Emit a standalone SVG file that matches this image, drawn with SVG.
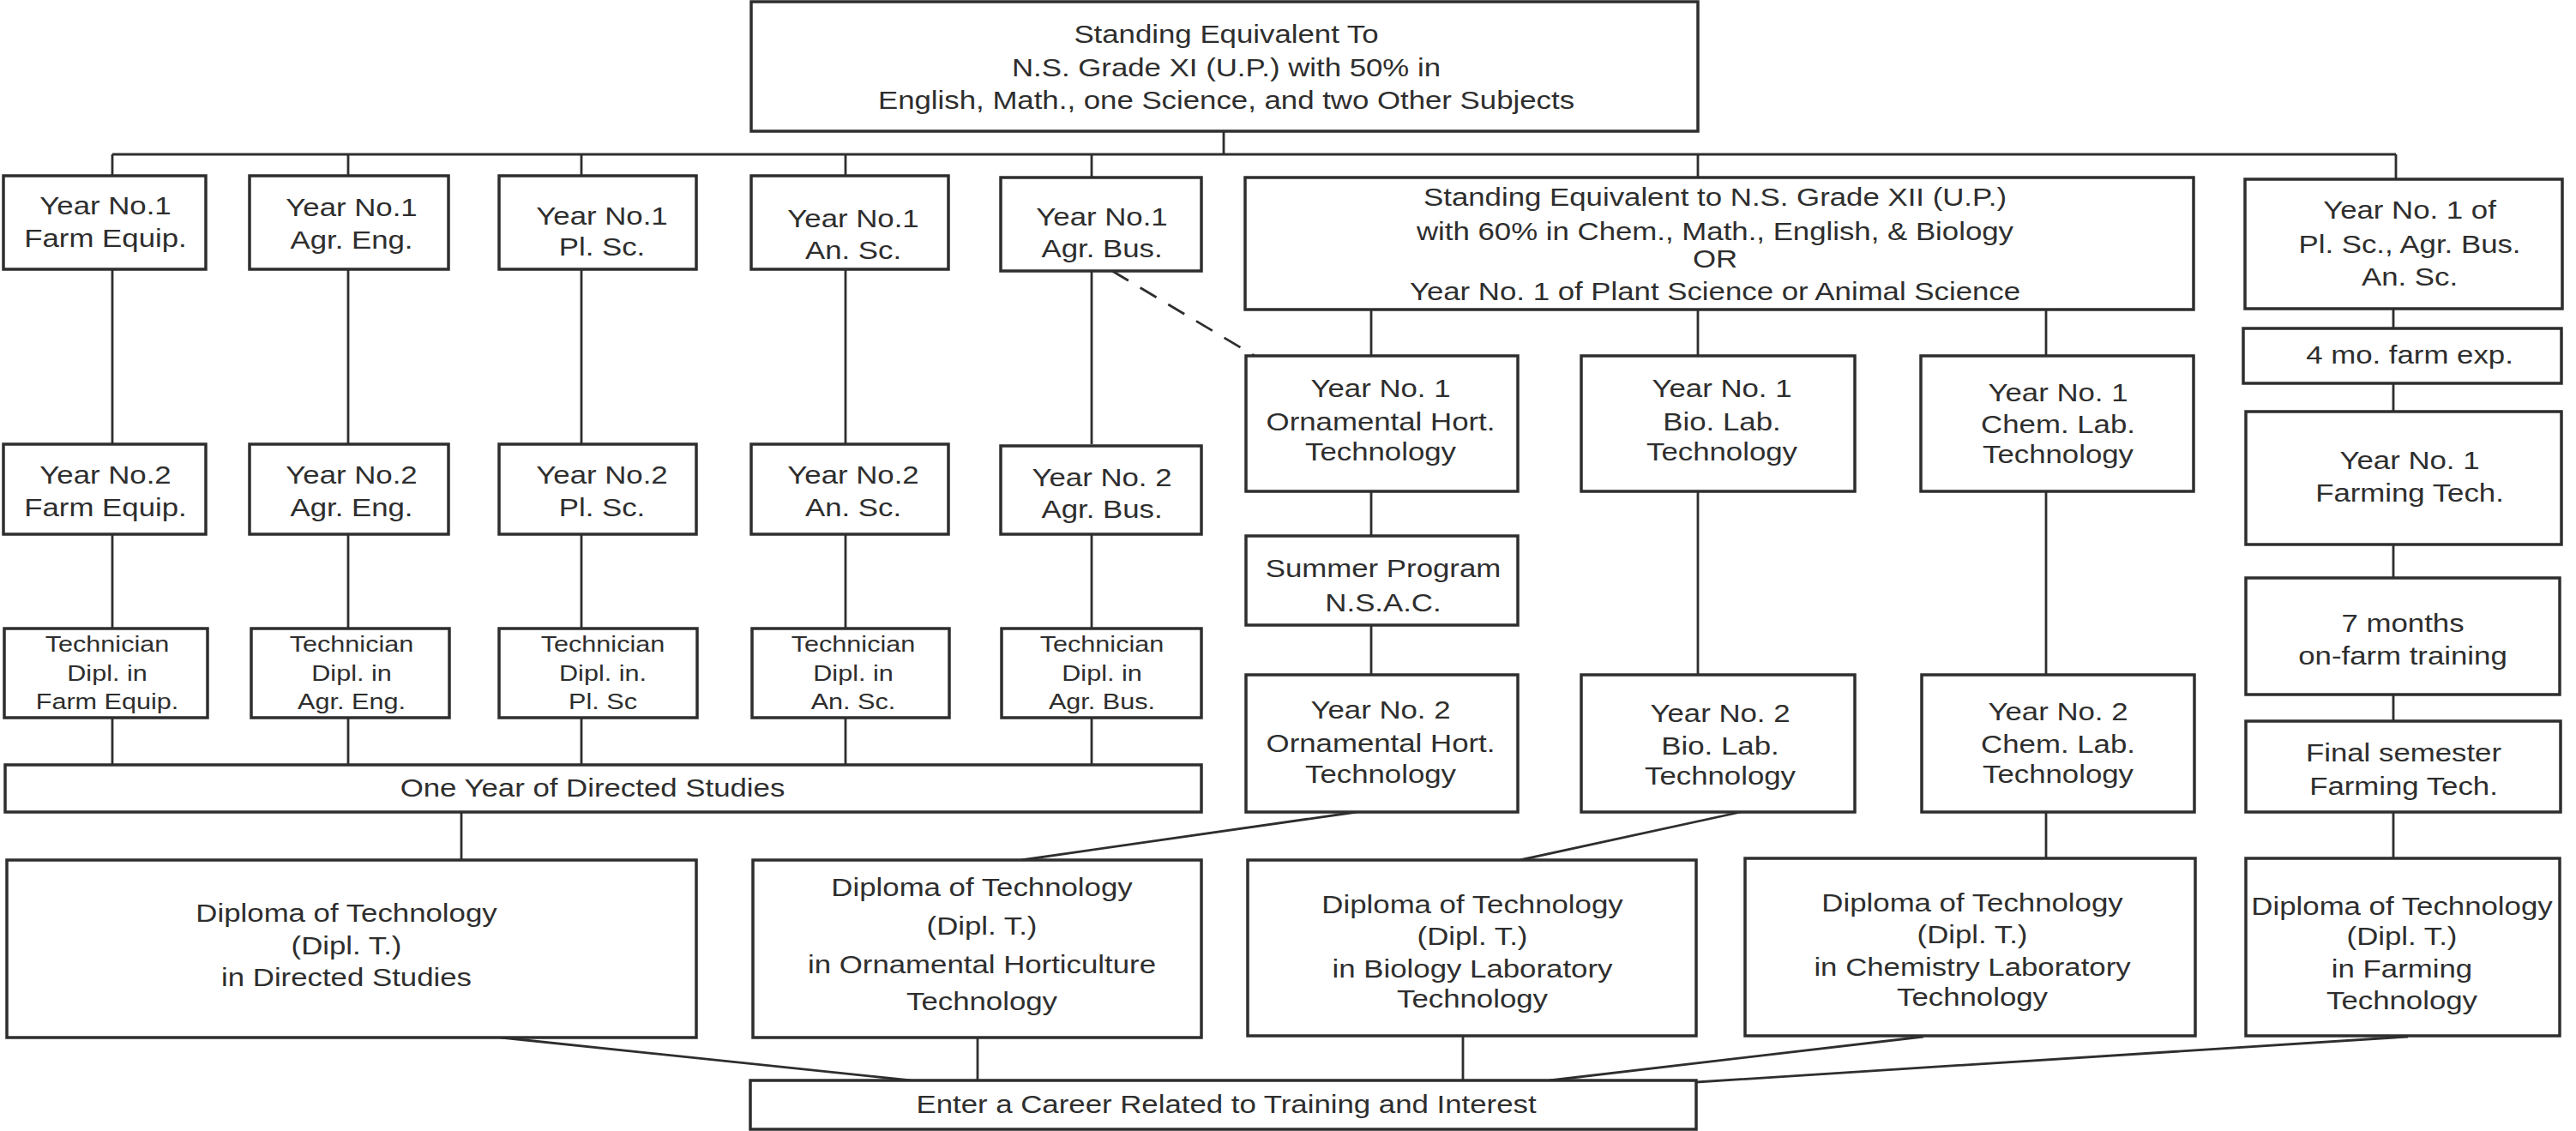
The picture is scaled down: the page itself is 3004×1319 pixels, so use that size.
<svg xmlns="http://www.w3.org/2000/svg" width="3004" height="1319" viewBox="0 0 3004 1319">
<style>
.box { fill: #ffffff; stroke: #2e2e2e; stroke-width: 3.5; }
.ln { fill: none; stroke: #2e2e2e; stroke-width: 2.8; }
.dash { stroke-dasharray: 22 16; }
text { font-family: "Liberation Sans", Arial, sans-serif; font-size: 29px; fill: #2e2e2e; text-anchor: middle; }
.sm text { font-size: 25.5px; }
</style>
<rect width="3004" height="1319" fill="#ffffff"/>

<g id="connectors">
<path class="ln" d="M1427 153 V180 M131 180 H2794 M131 180 V205 M406 180 V205 M678 180 V205 M986 180 V205 M1273 180 V207 M1980 180 V207 M2794 180 V209"/>
<path class="ln" d="M131 314 V518 M131 623 V733 M131 837 V892 M406 314 V518 M406 623 V733 M406 837 V892 M678 314 V518 M678 623 V733 M678 837 V892 M986 314 V518 M986 623 V733 M986 837 V892 M1273 316 V518 M1273 623 V733 M1273 837 V892"/>
<path class="ln" d="M538 947 V1003"/>
<path class="ln" d="M1599 361 V415 M1980 361 V415 M2386 361 V415 M1599 573 V625 M1599 729 V787 M1980 573 V787 M2386 573 V787"/>
<path class="ln" d="M1582 947 L1191 1003 M2030 947 L1772 1003 M2386 947 V1003"/>
<path class="ln" d="M2791 360 V383 M2791 447 V480 M2791 635 V674 M2791 810 V841 M2791 947 V1003"/>
<path class="ln" d="M584 1210 L1062 1260 M1140 1209 V1260 M1706 1209 V1260 M2243 1209 L1807 1260 M2808 1209 L1978 1262"/>
<path class="ln dash" d="M1297 316 L1463 415"/>
</g>

<g id="top">
<rect class="box" x="876" y="2" width="1104" height="151"/>
<g transform="translate(1430 0) scale(1.2 1)">
<text y="50">Standing Equivalent To</text>
<text y="89">N.S. Grade XI (U.P.) with 50% in</text>
<text y="127">English, Math., one Science, and two Other Subjects</text>
</g>
</g>

<g id="y1-farm-equip">
<rect class="box" x="4" y="205" width="236" height="109"/>
<g transform="translate(123 0) scale(1.2 1)"><text y="250">Year No.1</text><text y="288">Farm Equip.</text></g>
</g>
<g id="y1-agr-eng">
<rect class="box" x="291" y="205" width="232" height="109"/>
<g transform="translate(410 0) scale(1.2 1)"><text y="252">Year No.1</text><text y="290">Agr. Eng.</text></g>
</g>
<g id="y1-pl-sc">
<rect class="box" x="582" y="205" width="230" height="109"/>
<g transform="translate(702 0) scale(1.2 1)"><text y="262">Year No.1</text><text y="298">Pl. Sc.</text></g>
</g>
<g id="y1-an-sc">
<rect class="box" x="876" y="205" width="230" height="109"/>
<g transform="translate(995 0) scale(1.2 1)"><text y="265">Year No.1</text><text y="302">An. Sc.</text></g>
</g>
<g id="y1-agr-bus">
<rect class="box" x="1167" y="207" width="234" height="109"/>
<g transform="translate(1285 0) scale(1.2 1)"><text y="263">Year No.1</text><text y="300">Agr. Bus.</text></g>
</g>

<g id="y2-farm-equip">
<rect class="box" x="4" y="518" width="236" height="105"/>
<g transform="translate(123 0) scale(1.2 1)"><text y="564">Year No.2</text><text y="602">Farm Equip.</text></g>
</g>
<g id="y2-agr-eng">
<rect class="box" x="291" y="518" width="232" height="105"/>
<g transform="translate(410 0) scale(1.2 1)"><text y="564">Year No.2</text><text y="602">Agr. Eng.</text></g>
</g>
<g id="y2-pl-sc">
<rect class="box" x="582" y="518" width="230" height="105"/>
<g transform="translate(702 0) scale(1.2 1)"><text y="564">Year No.2</text><text y="602">Pl. Sc.</text></g>
</g>
<g id="y2-an-sc">
<rect class="box" x="876" y="518" width="230" height="105"/>
<g transform="translate(995 0) scale(1.2 1)"><text y="564">Year No.2</text><text y="602">An. Sc.</text></g>
</g>
<g id="y2-agr-bus">
<rect class="box" x="1167" y="520" width="234" height="103"/>
<g transform="translate(1285 0) scale(1.2 1)"><text y="567">Year No. 2</text><text y="604">Agr. Bus.</text></g>
</g>

<g id="tech-farm-equip" class="sm">
<rect class="box" x="5" y="733" width="237" height="104"/>
<g transform="translate(125 0) scale(1.2 1)"><text y="760">Technician</text><text y="794">Dipl. in</text><text y="827">Farm Equip.</text></g>
</g>
<g id="tech-agr-eng" class="sm">
<rect class="box" x="293" y="733" width="231" height="104"/>
<g transform="translate(410 0) scale(1.2 1)"><text y="760">Technician</text><text y="794">Dipl. in</text><text y="827">Agr. Eng.</text></g>
</g>
<g id="tech-pl-sc" class="sm">
<rect class="box" x="582" y="733" width="231" height="104"/>
<g transform="translate(703 0) scale(1.2 1)"><text y="760">Technician</text><text y="794">Dipl. in.</text><text y="827">Pl. Sc</text></g>
</g>
<g id="tech-an-sc" class="sm">
<rect class="box" x="877" y="733" width="230" height="104"/>
<g transform="translate(995 0) scale(1.2 1)"><text y="760">Technician</text><text y="794">Dipl. in</text><text y="827">An. Sc.</text></g>
</g>
<g id="tech-agr-bus" class="sm">
<rect class="box" x="1168" y="733" width="233" height="104"/>
<g transform="translate(1285 0) scale(1.2 1)"><text y="760">Technician</text><text y="794">Dipl. in</text><text y="827">Agr. Bus.</text></g>
</g>

<g id="one-year">
<rect class="box" x="6" y="892" width="1395" height="55"/>
<g transform="translate(691 0) scale(1.2 1)"><text y="929">One Year of Directed Studies</text></g>
</g>

<g id="grade-xii">
<rect class="box" x="1452" y="207" width="1106" height="154"/>
<g transform="translate(2000 0) scale(1.2 1)">
<text y="240">Standing Equivalent to N.S. Grade XII (U.P.)</text>
<text y="280">with 60% in Chem., Math., English, &amp; Biology</text>
<text y="312">OR</text>
<text y="350">Year No. 1 of Plant Science or Animal Science</text>
</g>
</g>

<g id="y1-orn">
<rect class="box" x="1453" y="415" width="317" height="158"/>
<g transform="translate(1610 0) scale(1.2 1)"><text y="463">Year No. 1</text><text y="502">Ornamental Hort.</text><text y="537">Technology</text></g>
</g>
<g id="y1-bio">
<rect class="box" x="1844" y="415" width="319" height="158"/>
<g transform="translate(2008 0) scale(1.2 1)"><text y="463">Year No. 1</text><text y="502">Bio. Lab.</text><text y="537">Technology</text></g>
</g>
<g id="y1-chem">
<rect class="box" x="2240" y="415" width="318" height="158"/>
<g transform="translate(2400 0) scale(1.2 1)"><text y="468">Year No. 1</text><text y="505">Chem. Lab.</text><text y="540">Technology</text></g>
</g>

<g id="summer">
<rect class="box" x="1453" y="625" width="317" height="104"/>
<g transform="translate(1613 0) scale(1.2 1)"><text y="673">Summer Program</text><text y="713">N.S.A.C.</text></g>
</g>

<g id="y2-orn">
<rect class="box" x="1453" y="787" width="317" height="160"/>
<g transform="translate(1610 0) scale(1.2 1)"><text y="838">Year No. 2</text><text y="877">Ornamental Hort.</text><text y="913">Technology</text></g>
</g>
<g id="y2-bio">
<rect class="box" x="1844" y="787" width="319" height="160"/>
<g transform="translate(2006 0) scale(1.2 1)"><text y="842">Year No. 2</text><text y="880">Bio. Lab.</text><text y="915">Technology</text></g>
</g>
<g id="y2-chem">
<rect class="box" x="2241" y="787" width="318" height="160"/>
<g transform="translate(2400 0) scale(1.2 1)"><text y="840">Year No. 2</text><text y="878">Chem. Lab.</text><text y="913">Technology</text></g>
</g>

<g id="y1-of">
<rect class="box" x="2618" y="209" width="370" height="151"/>
<g transform="translate(2810 0) scale(1.2 1)"><text y="255">Year No. 1 of</text><text y="295">Pl. Sc., Agr. Bus.</text><text y="333">An. Sc.</text></g>
</g>
<g id="farm-exp">
<rect class="box" x="2616" y="383" width="371" height="64"/>
<g transform="translate(2810 0) scale(1.2 1)"><text y="424">4 mo. farm exp.</text></g>
</g>
<g id="y1-farming">
<rect class="box" x="2619" y="480" width="368" height="155"/>
<g transform="translate(2810 0) scale(1.2 1)"><text y="547">Year No. 1</text><text y="585">Farming Tech.</text></g>
</g>
<g id="on-farm">
<rect class="box" x="2619" y="674" width="366" height="136"/>
<g transform="translate(2802 0) scale(1.2 1)"><text y="737">7 months</text><text y="775">on-farm training</text></g>
</g>
<g id="final-sem">
<rect class="box" x="2619" y="841" width="367" height="106"/>
<g transform="translate(2803 0) scale(1.2 1)"><text y="888">Final semester</text><text y="927">Farming Tech.</text></g>
</g>

<g id="dipl-directed">
<rect class="box" x="8" y="1003" width="804" height="207"/>
<g transform="translate(404 0) scale(1.2 1)"><text y="1075">Diploma of Technology</text><text y="1113">(Dipl. T.)</text><text y="1150">in Directed Studies</text></g>
</g>
<g id="dipl-orn">
<rect class="box" x="878" y="1003" width="523" height="207"/>
<g transform="translate(1145 0) scale(1.2 1)"><text y="1045">Diploma of Technology</text><text y="1090">(Dipl. T.)</text><text y="1135">in Ornamental Horticulture</text><text y="1178">Technology</text></g>
</g>
<g id="dipl-bio">
<rect class="box" x="1455" y="1003" width="523" height="205"/>
<g transform="translate(1717 0) scale(1.2 1)"><text y="1065">Diploma of Technology</text><text y="1102">(Dipl. T.)</text><text y="1140">in Biology Laboratory</text><text y="1175">Technology</text></g>
</g>
<g id="dipl-chem">
<rect class="box" x="2035" y="1001" width="525" height="207"/>
<g transform="translate(2300 0) scale(1.2 1)"><text y="1063">Diploma of Technology</text><text y="1100">(Dipl. T.)</text><text y="1138">in Chemistry Laboratory</text><text y="1173">Technology</text></g>
</g>
<g id="dipl-farming">
<rect class="box" x="2619" y="1001" width="366" height="207"/>
<g transform="translate(2801 0) scale(1.2 1)"><text y="1067">Diploma of Technology</text><text y="1102">(Dipl. T.)</text><text y="1140">in Farming</text><text y="1177">Technology</text></g>
</g>

<g id="career">
<rect class="box" x="875" y="1260" width="1103" height="57"/>
<g transform="translate(1430 0) scale(1.2 1)"><text y="1298">Enter a Career Related to Training and Interest</text></g>
</g>
</svg>
